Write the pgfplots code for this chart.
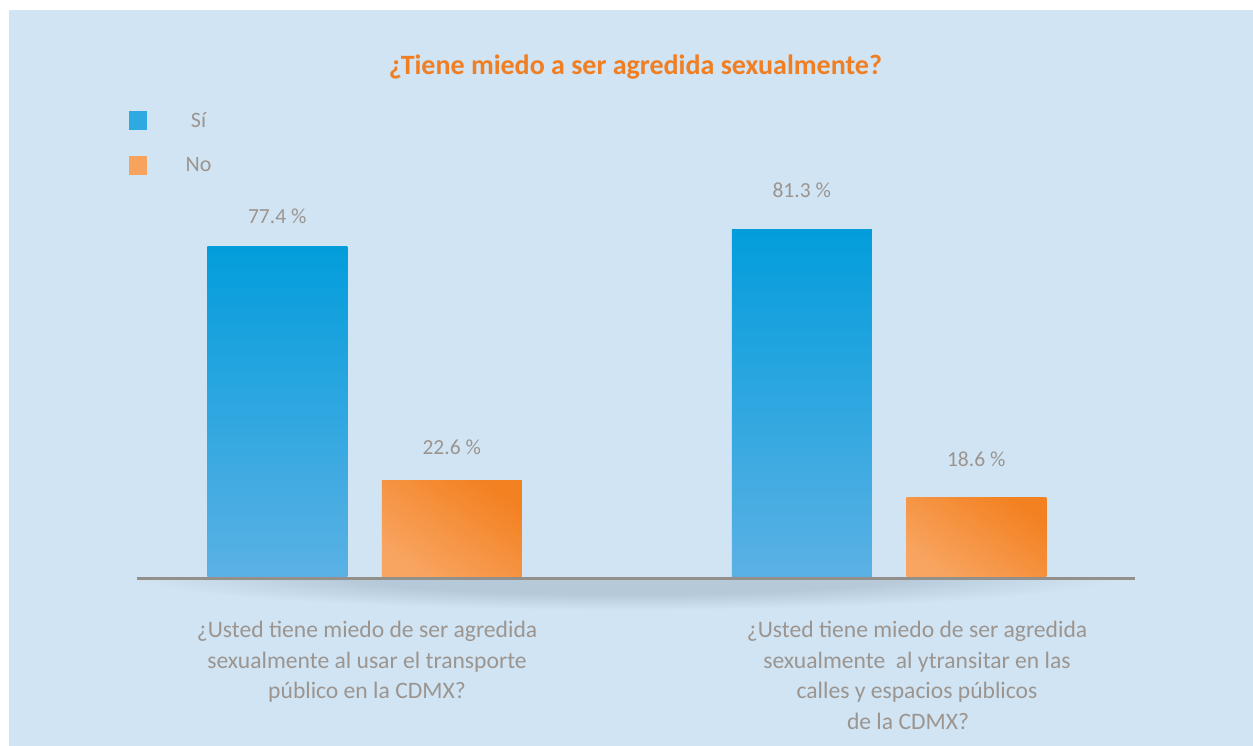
\documentclass[border=0pt]{standalone}
\usepackage{fontspec}
\setmainfont{Carlito}
\usepackage{pgfplots}
\pgfplotsset{compat=1.18}
\definecolor{bgblue}{HTML}{D0E4F4}
\definecolor{bluetop}{HTML}{039DDC}
\definecolor{bluebot}{HTML}{5BB1E4}
\definecolor{orangetop}{HTML}{F38121}
\definecolor{orangebot}{HTML}{F8A562}
\definecolor{legblue}{HTML}{2FA9E2}
\definecolor{legorange}{HTML}{F8A35D}
\definecolor{txtgray}{HTML}{9C958F}
\definecolor{titleorange}{HTML}{F07E22}
\definecolor{basegray}{HTML}{938F8B}
\definecolor{shadowcol}{HTML}{B5C9D9}
\pgfdeclareradialshading{floorshadow}{\pgfpoint{0bp}{0bp}}{color(0bp)=(shadowcol); color(14bp)=(shadowcol); color(25bp)=(bgblue); color(50bp)=(bgblue)}
\begin{document}
\begin{tikzpicture}[x=1pt,y=1pt]
\fill[white] (0,0) rectangle (1253,746);
\fill[bgblue] (9,0) rectangle (1253,736);
\begin{scope}
\clip (120,168) rectangle (1160,110);
\shade[shading=floorshadow] (625,172) ellipse [x radius=500, y radius=36];
\end{scope}
\begin{axis}[
  at={(137pt,169pt)}, anchor=south west,
  scale only axis, width=998pt, height=427pt,
  xmin=-0.43375, xmax=1.46902, ymin=0, ymax=100,
  ybar, bar width=140pt,
  axis x line*=bottom, axis y line=none,
  x axis line style={line width=3pt, color=basegray, yshift=-1.5pt, -},
  xtick={0.0048,1.0534},
  xticklabels={{¿Usted tiene miedo de ser agredida\\sexualmente al usar el transporte\\público en la CDMX?},
               {¿Usted tiene miedo de ser agredida\\sexualmente\ \ al ytransitar en las\\calles y espacios públicos\\de la CDMX?\kern18pt}},
  xticklabel style={align=center, anchor=north, inner sep=0pt, yshift=-44pt,
    font=\fontsize{23.6}{30.7}\selectfont, text=txtgray},
  major tick length=0pt, xtick style={draw=none},
  /pgf/number format/.cd, fixed, fixed zerofill, precision=1, assume math mode=true, /pgfplots/.cd,
  nodes near coords={\pgfmathprintnumber{\pgfplotspointmeta}\ \%},
  nodes near coords style={anchor=base, inner sep=0pt,
    font=\fontsize{21.5}{26}\selectfont, text=txtgray},
  title={¿Tiene miedo a ser agredida sexualmente?},
  title style={at={(axis description cs:0.4995,1.1639)}, anchor=base, inner sep=0pt,
    font=\fontsize{28}{32}\selectfont\bfseries, text=titleorange},
  legend style={at={(axis description cs:-0.008,1.0937)}, anchor=north west,
    draw=none, fill=none, inner sep=0pt, row sep=25pt,
    cells={anchor=center}, font=\fontsize{22}{26}\selectfont, text=txtgray,
    /tikz/every odd column/.append style={column sep=37pt}},
]
\addlegendimage{legend image code/.code={\fill[legblue] (0pt,-9pt) rectangle (17pt,9pt);}}
\addlegendentry{Sí}
\addlegendimage{legend image code/.code={\fill[legorange] (0pt,-9pt) rectangle (17pt,9pt);}}
\addlegendentry{No}
% Sí
\addplot[forget plot, draw=none, bar shift=-87.25pt, top color=bluetop, bottom color=bluebot,
  nodes near coords style={yshift=23pt}]
  coordinates {(0,77.4)};
\addplot[forget plot, draw=none, bar shift=-87.25pt, top color=bluetop, bottom color=bluebot,
  nodes near coords style={yshift=32pt}]
  coordinates {(1,81.3)};
% No
\addplot[forget plot, draw=none, bar shift=87.25pt, top color=orangetop, bottom color=orangebot, shading angle=-35,
  nodes near coords style={yshift=26pt}]
  coordinates {(0,22.6)};
\addplot[forget plot, draw=none, bar shift=87.25pt, top color=orangetop, bottom color=orangebot, shading angle=-35,
  nodes near coords style={yshift=31pt}]
  coordinates {(1,18.6)};
\end{axis}
\end{tikzpicture}
\end{document}
